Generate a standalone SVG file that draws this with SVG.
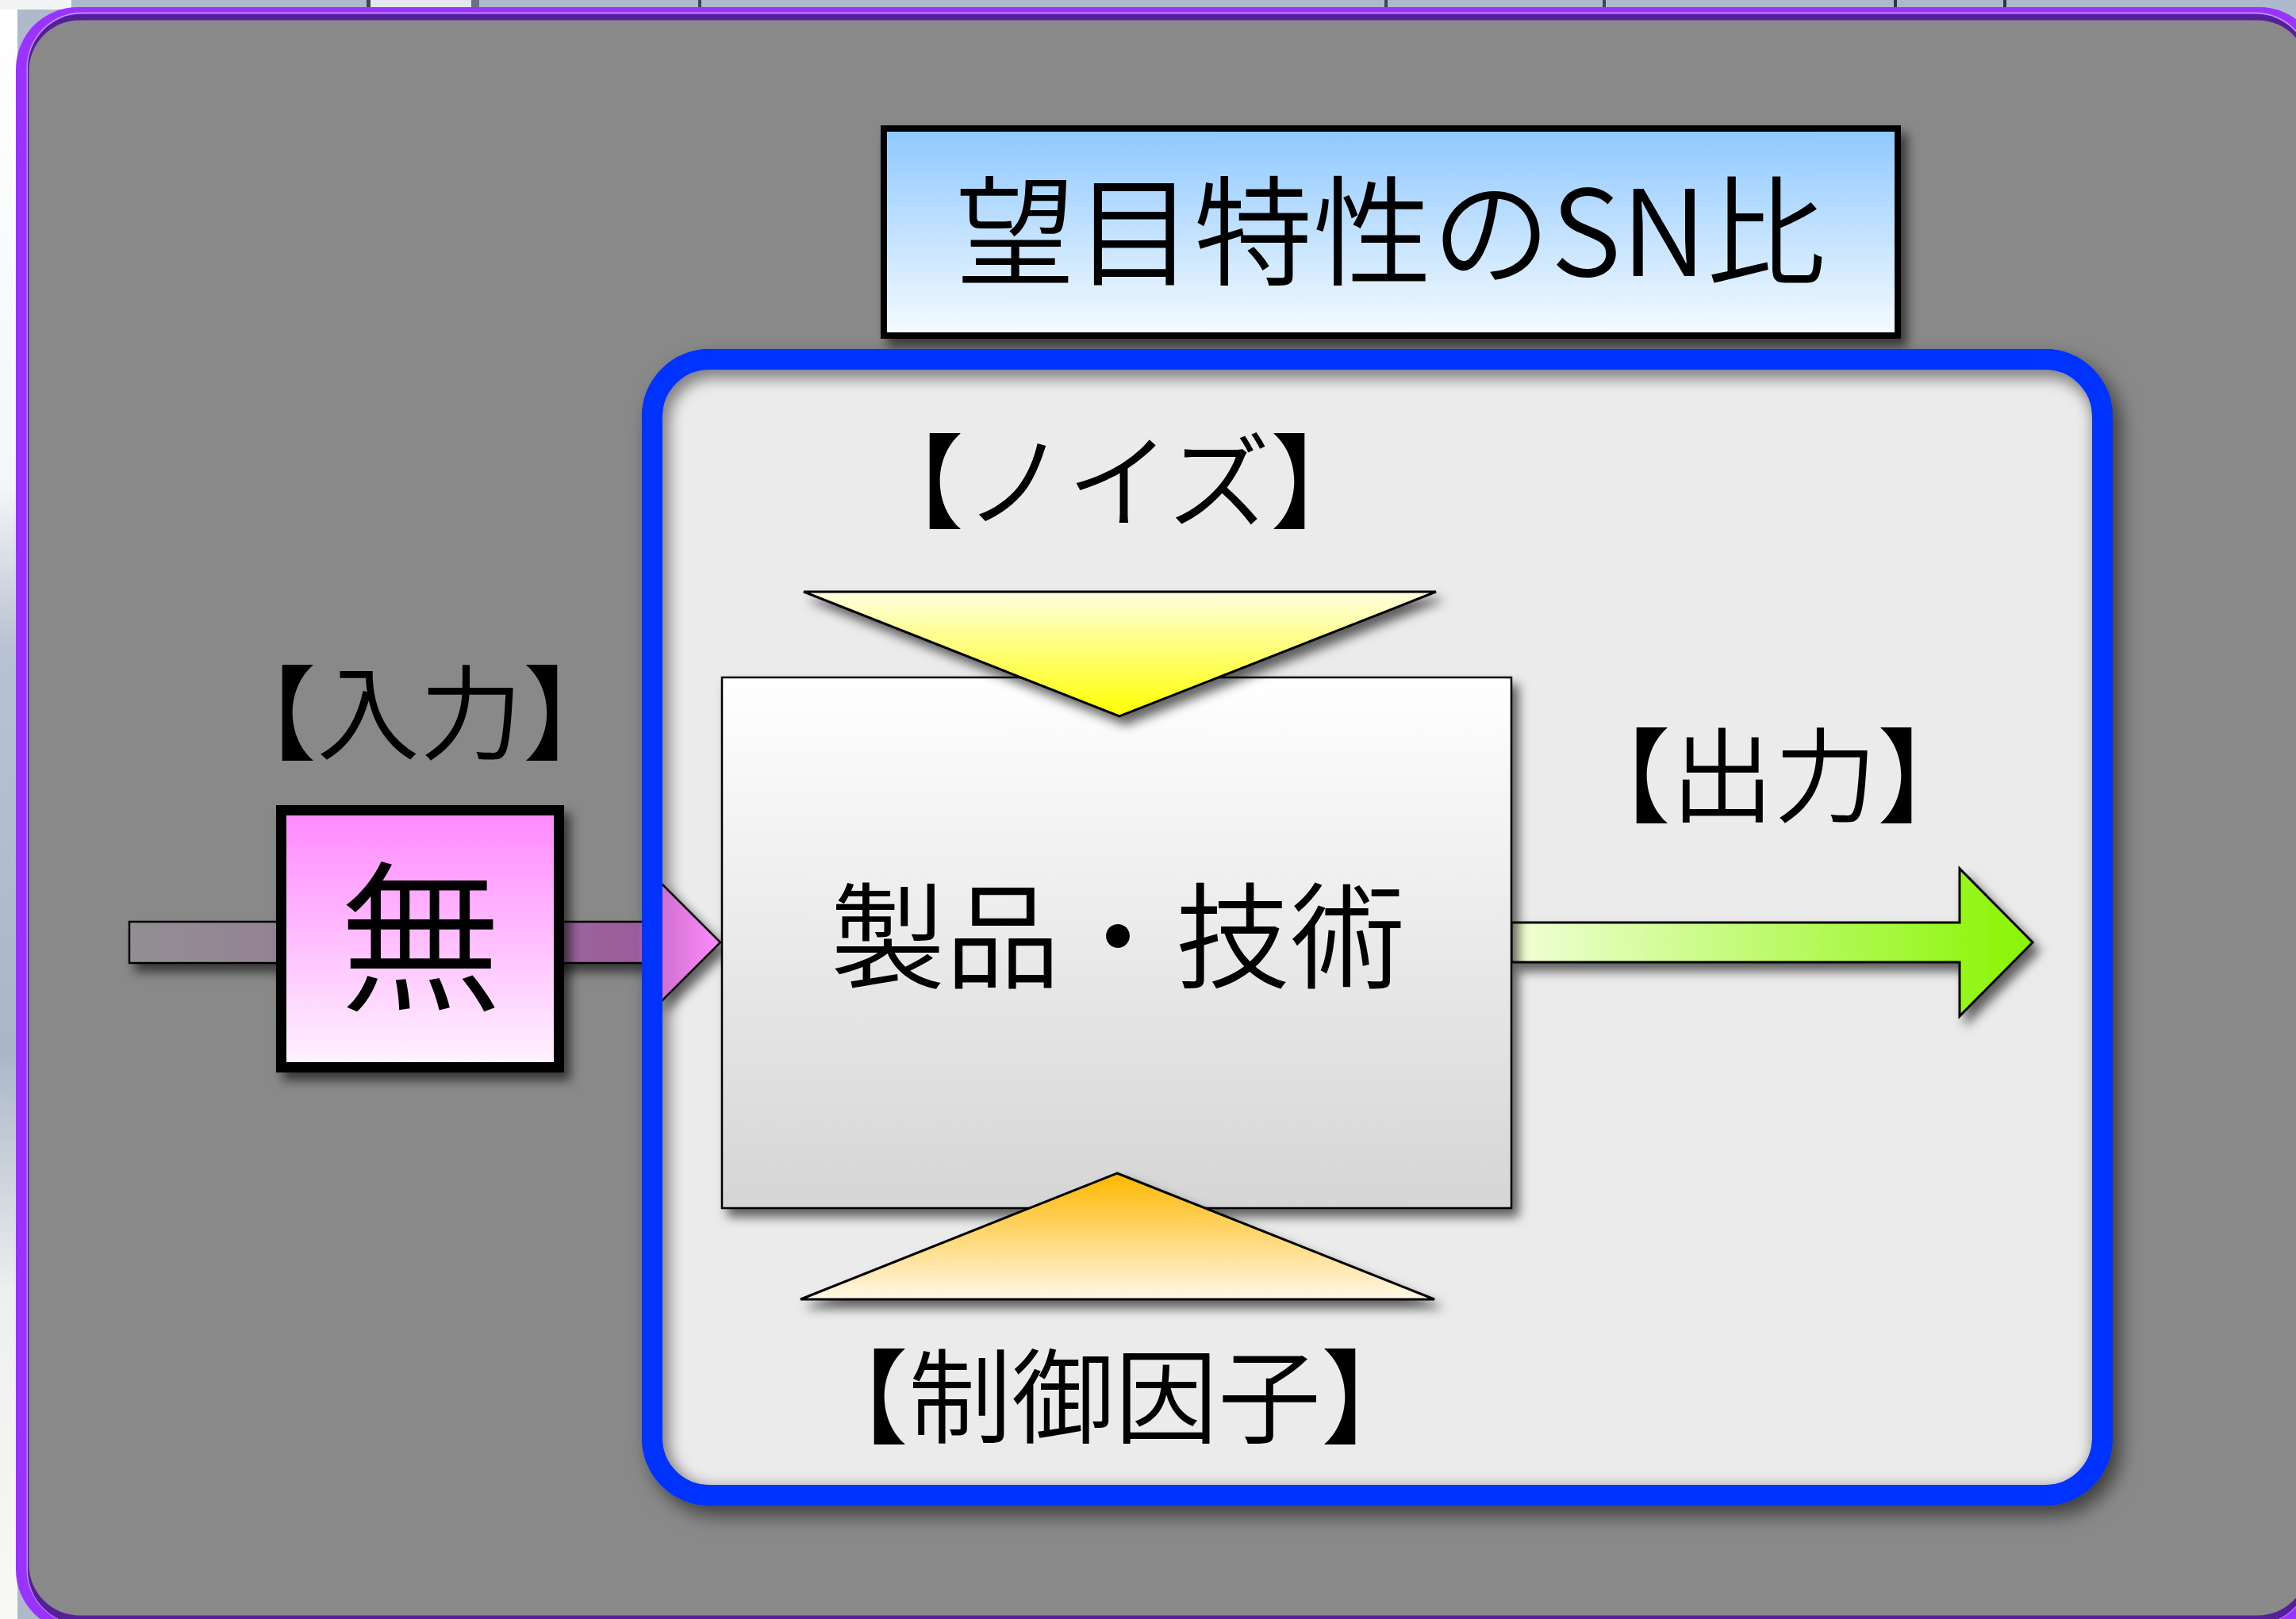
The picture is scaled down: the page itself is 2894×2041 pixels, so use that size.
<svg xmlns="http://www.w3.org/2000/svg" width="2894" height="2041" viewBox="0 0 2894 2041">
<style>
.lbl{font-family:"Noto Sans CJK JP","Noto Sans CJK SC",sans-serif;font-weight:350;fill:#000;text-anchor:middle}
.edge{stroke:#000;stroke-linejoin:miter}
</style>
<defs>
<filter id="sh" x="-20%" y="-20%" width="140%" height="140%"><feDropShadow dx="8" dy="10" stdDeviation="7" flood-color="#000" flood-opacity="0.6"/></filter>
<filter id="shBig" x="-10%" y="-10%" width="120%" height="120%"><feDropShadow dx="10" dy="12" stdDeviation="12" flood-color="#000" flood-opacity="0.55"/></filter>
<filter id="blur"><feGaussianBlur stdDeviation="9"/></filter>
<linearGradient id="leftBg" x1="0" y1="0" x2="0" y2="1"><stop offset="0" stop-color="#ffffff"/><stop offset="0.3" stop-color="#f4f6f8"/><stop offset="0.4" stop-color="#b9c2d2"/><stop offset="0.65" stop-color="#aab6c8"/><stop offset="0.8" stop-color="#eef0f0"/><stop offset="1" stop-color="#f8f8f4"/></linearGradient>
<linearGradient id="titleG" x1="0" y1="0" x2="0" y2="1"><stop offset="0" stop-color="#8ec8ff"/><stop offset="1" stop-color="#f6fbff"/></linearGradient>
<linearGradient id="pinkG" x1="0" y1="0" x2="0" y2="1"><stop offset="0" stop-color="#ff88ff"/><stop offset="1" stop-color="#fff4ff"/></linearGradient>
<linearGradient id="inG" gradientUnits="userSpaceOnUse" x1="163" y1="0" x2="908" y2="0"><stop offset="0" stop-color="#928e93"/><stop offset="0.45" stop-color="#977a98"/><stop offset="0.86" stop-color="#9c5c9c"/><stop offset="0.9" stop-color="#d070d0"/><stop offset="1" stop-color="#ff8cff"/></linearGradient>
<linearGradient id="outG" gradientUnits="userSpaceOnUse" x1="1905" y1="0" x2="2562" y2="0"><stop offset="0" stop-color="#f2ffd8"/><stop offset="1" stop-color="#88f500"/></linearGradient>
<linearGradient id="noiseG" gradientUnits="userSpaceOnUse" x1="0" y1="746" x2="0" y2="903"><stop offset="0" stop-color="#ffffe0"/><stop offset="1" stop-color="#ffff00"/></linearGradient>
<linearGradient id="ctrlG" gradientUnits="userSpaceOnUse" x1="0" y1="1479" x2="0" y2="1638"><stop offset="0" stop-color="#ffb700"/><stop offset="1" stop-color="#fff8e8"/></linearGradient>
<linearGradient id="mainG" x1="0" y1="0" x2="0" y2="1"><stop offset="0" stop-color="#ffffff"/><stop offset="1" stop-color="#d5d5d5"/></linearGradient>
<clipPath id="innerClip"><rect x="835" y="466" width="1802" height="1406" rx="59"/></clipPath>
</defs>

<g id="background">
<rect x="0" y="0" width="2894" height="2041" fill="#aeb9cb"/>
<rect x="0" y="0" width="22" height="2041" fill="url(#leftBg)"/>
<rect x="0" y="0" width="90" height="12" fill="#f2f4f6"/>
<rect x="462" y="0" width="5" height="12" fill="#3c4658"/>
<rect x="467" y="0" width="130" height="12" fill="#e4e8ee"/>
<rect x="594" y="0" width="10" height="12" fill="#6a7080"/>
<rect x="880" y="0" width="4" height="12" fill="#3c4658"/>
<rect x="1745" y="0" width="4" height="12" fill="#3c4658"/>
<rect x="2020" y="0" width="4" height="12" fill="#3c4658"/>
<rect x="2387" y="0" width="4" height="12" fill="#2c3648"/>
<rect x="2525" y="0" width="4" height="12" fill="#2c3648"/>
</g>

<g id="frame">
<rect x="20" y="9" width="2906" height="2048" rx="78" fill="#9933ff"/>
<rect x="33.5" y="15.5" width="2879" height="2033" rx="70" fill="#c58cff"/>
<rect x="35" y="17.5" width="2876" height="2030" rx="68" fill="#551f99"/>
<rect x="36.5" y="25.5" width="2873" height="2011" rx="64" fill="#898989"/>
</g>

<g id="title-node" filter="url(#sh)">
<rect x="1114" y="162" width="1278" height="261" fill="url(#titleG)" stroke="#000" stroke-width="8"/>
<text class="lbl" x="1753" y="348" font-size="150">望目特性のSN比</text>
</g>

<g id="system-node">
<rect x="822" y="453" width="1828" height="1432" rx="72" fill="#ebebeb" stroke="#0033ff" stroke-width="26" filter="url(#shBig)"/>
<g clip-path="url(#innerClip)">
<rect x="822" y="453" width="1828" height="1432" rx="72" fill="none" stroke="#000" stroke-opacity="0.45" stroke-width="34" transform="translate(5,7)" filter="url(#blur)"/>
</g>
</g>

<g id="connectors">
<polygon id="input-arrow" points="163,1162 833,1162 833,1113 908,1188 833,1263 833,1214 163,1214" fill="url(#inG)" class="edge" stroke-width="2.5" filter="url(#sh)"/>
<polygon id="output-arrow" points="1905,1163 2470,1163 2470,1095 2562,1188 2470,1281 2470,1213 1905,1213" fill="url(#outG)" class="edge" stroke-width="3" filter="url(#sh)"/>
</g>

<rect x="822" y="453" width="1828" height="1432" rx="72" fill="none" stroke="#0033ff" stroke-width="26"/>

<g id="input-node" filter="url(#sh)">
<rect x="354.5" y="1021.5" width="350" height="324" fill="url(#pinkG)" stroke="#000" stroke-width="13"/>
<text class="lbl" x="530" y="1258" font-size="205">無</text>
</g>

<g id="product-node" filter="url(#sh)">
<rect x="910" y="854" width="995" height="669" fill="url(#mainG)" stroke="#000" stroke-width="2.5"/>
<text class="lbl" x="1409" y="1235" font-size="145">製品・技術</text>
</g>

<g id="noise-node" filter="url(#sh)">
<polygon points="1013,746 1810,746 1411,903" fill="url(#noiseG)" class="edge" stroke-width="3"/>
</g>

<g id="control-node" filter="url(#sh)">
<polygon points="1408,1479 1808,1638 1009,1638" fill="url(#ctrlG)" class="edge" stroke-width="3"/>
</g>

<g id="labels">
<text class="lbl" x="529" y="947" font-size="130">【入力】</text>
<text class="lbl" x="1408" y="655" font-size="130">【ノイズ】</text>
<text class="lbl" x="2236" y="1026" font-size="130">【出力】</text>
<text class="lbl" x="1405" y="1809" font-size="130">【制御因子】</text>
</g>
</svg>
